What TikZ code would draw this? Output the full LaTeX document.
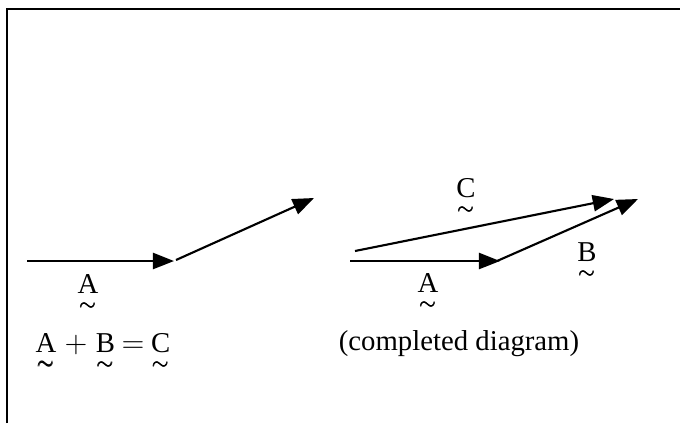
\documentclass[tikz,border=0pt]{standalone}
\usepackage{amsmath,amssymb}
\usepackage{fontspec}
\setmainfont{Liberation Serif}
\usepackage{tikz}
\usetikzlibrary{arrows.meta,positioning}
\newcommand{\uvec}[1]{\underset{\pmb{\sim}}{\mathrm{#1}}}

\begin{document}
\begin{tikzpicture}[x=0.4pt,y=-0.4pt,
  vecline/.style={line width=0.85pt,-{Triangle[length=8.5pt,width=6.5pt]}},
  veclabel/.style={inner sep=0pt,font=\fontsize{11.5}{13}\selectfont}]
\useasboundingbox (0,0) rectangle (680,423);
% frame (only top and left edges show)
\draw[line width=1.1pt] (7,423) -- (7,9) -- (680,9);
% left: A, then B placed at the head of A
\coordinate (la0) at (27,261);
\coordinate (la1) at (174,261);
\coordinate (lb0) at (176,260);
\coordinate (lb1) at (314,198);
\draw[vecline] (la0) -- (la1);
\draw[vecline] (lb0) -- (lb1);
\node[veclabel] (lA) at (88,294){$\uvec{A}$};
\node[veclabel,anchor=west] (lsum) at (35,353)
  {$\uvec{A}\mkern5mu{+}\mkern5mu\uvec{B}\mkern4mu{=}\mkern4mu\uvec{C}$};
% right: completed diagram, C from tail of A to head of B
\coordinate (ra0) at (350,261);
\coordinate (ra1) at (500,261);
\coordinate (rb0) at (497,261);
\coordinate (rb1) at (638,199);
\coordinate (rc0) at (355,251);
\coordinate (rc1) at (614,199);
\draw[vecline] (ra0) -- (ra1);
\draw[vecline] (rb0) -- (rb1);
\draw[vecline] (rc0) -- (rc1);
\node[veclabel] (rC) at (466,198){$\uvec{C}$};
\node[veclabel] (rB) at (587,262){$\uvec{B}$};
\node[veclabel] (rA) at (428,293){$\uvec{A}$};
\node[inner sep=0pt,font=\fontsize{11.5}{13}\selectfont] (cap) at (459,344){(completed diagram)};
\end{tikzpicture}
\end{document}
